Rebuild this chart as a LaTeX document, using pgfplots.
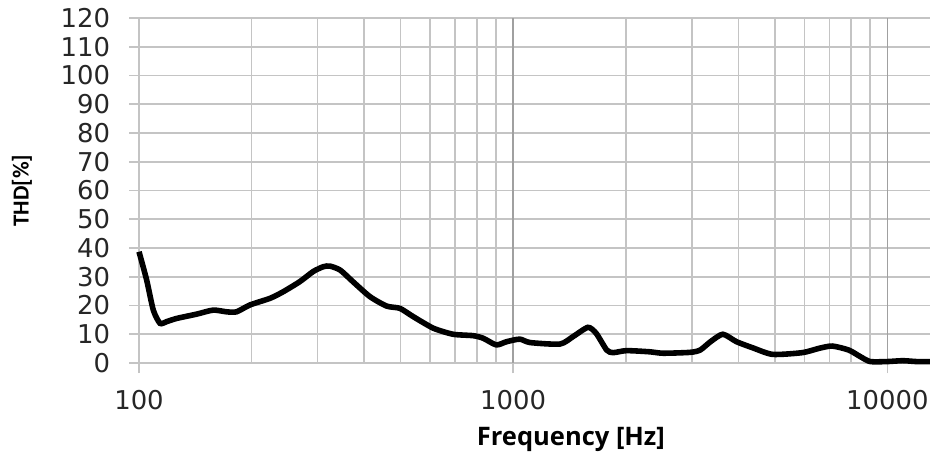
\documentclass[border=0pt]{standalone}
\usepackage{fontspec}
\setmainfont{DejaVu Sans}
\newfontfamily\xlabfont{Open Sans}
\newfontfamily\ylabfont{Carlito}
\usepackage{pgfplots}
\pgfplotsset{compat=1.18}
\definecolor{gridgray}{HTML}{C4C4C4}
\definecolor{majgray}{HTML}{A0A0A0}
\begin{document}
\begin{tikzpicture}
\useasboundingbox (-69.5bp,-47.5bp) rectangle (395.5bp,181.5bp);
\begin{axis}[
  at={(0,0)}, anchor=south west,
  scale only axis,
  width=395.5bp, height=172.5bp,
  xmode=log,
  xmin=100, xmax=13000,
  ymin=0, ymax=120,
  ytick={0,10,...,120},
  xtick={100,1000,10000},
  xticklabels={100,1000,10000},
  extra x ticks={1000,10000},
  extra x tick labels={},
  extra x tick style={major grid style={draw=majgray, line width=0.8pt}},
  axis x line=bottom, axis y line=left,
  axis line style={draw=gridgray, line width=0.8pt, -},
  grid=both,
  major grid style={draw=gridgray, line width=0.8pt},
  minor grid style={draw=gridgray, line width=0.8pt},
  tick align=outside,
  major tick length=5bp, minor tick length=0pt,
  tick style={draw=gridgray, line width=0.8pt},
  clip=false,
  /pgf/number format/assume math mode=true,
  ticklabel style={font=\fontsize{13}{15}\selectfont, text=black!85},
  xticklabel style={yshift=-5bp},
  yticklabel style={xshift=-6bp},
  xlabel={\xlabfont\bfseries Frequency [Hz]},
  ylabel={\ylabfont\bfseries THD[\%]},
  xlabel style={at={(axis description cs:0.546,-0.223)}, anchor=center, font=\fontsize{12.8}{14}\selectfont},
  ylabel style={at={(axis description cs:-0.148,0.5)}, anchor=center, font=\fontsize{11.5}{14}\selectfont},
]
\addplot[black, line width=2.8pt, smooth, tension=0.4] coordinates {
(100,38.7) (104.8,28.9) (109.2,18.4) (113.8,13.8) (118.6,14.4) (126.1,15.5)
(142.6,17.0) (157.9,18.4) (171.5,17.8) (182.3,17.8) (198,20.2) (224,22.5)
(243,24.8) (269,28.3) (292,31.8) (311,33.5) (324,33.7) (345,32.3)
(373,28.3) (414,23.1) (459,19.8) (498,19.0) (541,16.1) (612,12.1)
(691,10.0) (782,9.5) (832,8.6) (901,6.3) (960,7.4) (1041,8.3)
(1111,7.1) (1334,6.6) (1446,9.2) (1584,12.4) (1667,10.3) (1778,4.5)
(1850,3.6) (2008,4.3) (2315,3.9) (2515,3.4) (2967,3.7) (3160,4.5)
(3367,7.4) (3633,10.0) (3953,7.4) (4363,5.3) (4937,3.0) (5924,3.6)
(6567,5.1) (7120,5.9) (7887,4.5) (8470,2.2) (9000,0.5) (9985,0.5)
(11000,0.8) (11960,0.5) (13000,0.5)
};
\end{axis}
\end{tikzpicture}
\end{document}
